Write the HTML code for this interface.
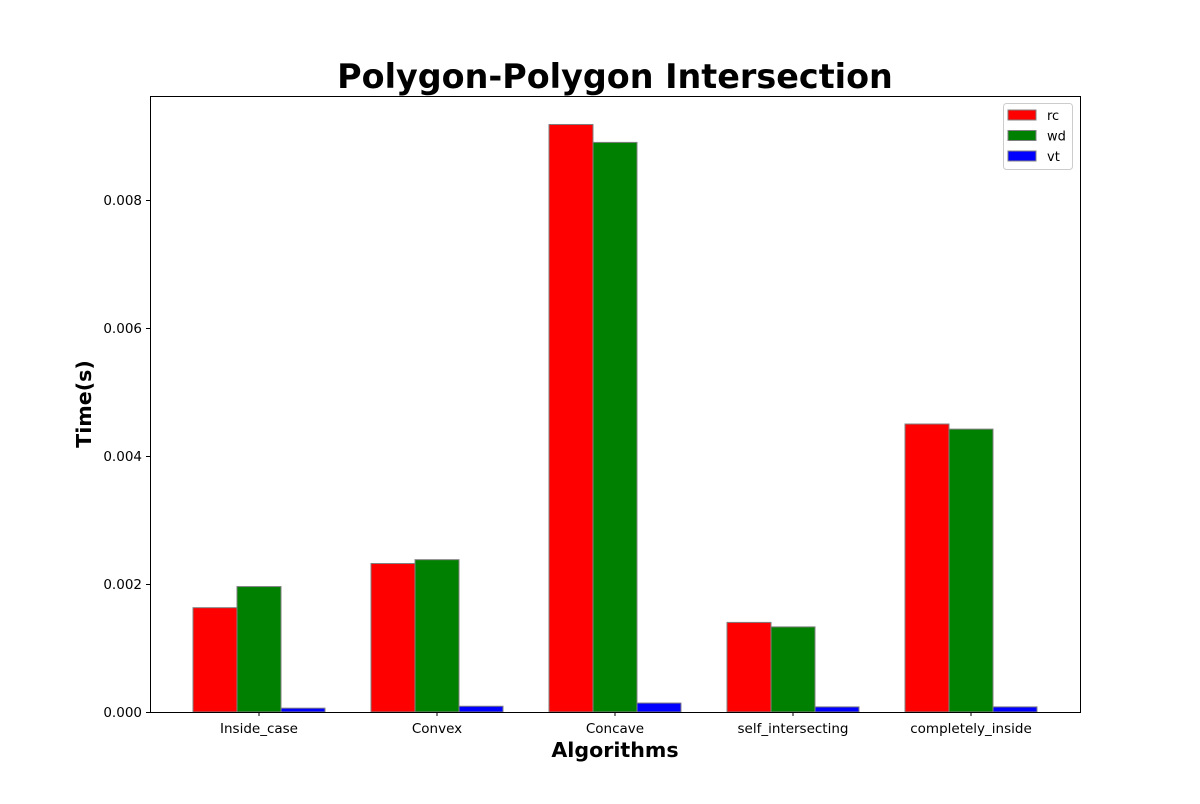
<!DOCTYPE html>
<html><head><meta charset="utf-8"><style>
body{margin:0;background:#fff;font-family:"DejaVu Sans","Liberation Sans",sans-serif}
</style></head><body>
<svg id="chart" width="1200" height="800" xmlns="http://www.w3.org/2000/svg" font-family="DejaVu Sans, Liberation Sans, sans-serif">
<text x="615" y="88" text-anchor="middle" font-size="33.4" font-weight="bold">Polygon-Polygon Intersection</text>
<g id="bars"></g>
<g id="axes"></g>
<rect x="150.5" y="96.5" width="930" height="616" fill="none" stroke="#000" stroke-width="1"/>
<text x="615" y="757" text-anchor="middle" font-size="20.6" font-weight="bold">Algorithms</text>
<text transform="translate(91,404) rotate(-90)" text-anchor="middle" font-size="20.6" font-weight="bold">Time(s)</text>
<g>
<rect x="1003.5" y="103.5" width="69" height="66" rx="3" fill="#fff" stroke="#ccc"/>
<g id="legend"></g>
</g>
</svg>
<script>
const categories=["Inside_case","Convex","Concave","self_intersecting","completely_inside"];
const seriesNames=["rc","wd","vt"];
const seriesColors=["#ff0000","#008000","#0000ff"];
const rcValues=[0.00163,0.00232,0.00918,0.00140,0.00450];
const wdValues=[0.00196,0.00238,0.00890,0.00133,0.00442];
const vtValues=[0.00006,0.00009,0.00014,0.00008,0.00008];
const yTicks=[0,0.002,0.004,0.006,0.008];
const yTickLabels=["0.000","0.002","0.004","0.006","0.008"];
const ns="http://www.w3.org/2000/svg";
const y=v=>712-v/0.001*64;
const groupX=i=>259+i*178;
const barW=44;
const all=[rcValues,wdValues,vtValues];
const bars=document.getElementById('bars');
all.forEach((vals,s)=>{vals.forEach((v,i)=>{
 const r=document.createElementNS(ns,'rect');
 const cx=groupX(i)+(s-1)*barW;
 r.setAttribute('x',cx-barW/2);r.setAttribute('y',y(v));
 r.setAttribute('width',barW);r.setAttribute('height',712-y(v));
 r.setAttribute('fill',seriesColors[s]);r.setAttribute('stroke','#808080');r.setAttribute('stroke-width','1');
 
 
 bars.appendChild(r);});});
const axes=document.getElementById('axes');
yTicks.forEach((t,i)=>{
 const l=document.createElementNS(ns,'line');
 l.setAttribute('x1',146);l.setAttribute('x2',150);l.setAttribute('y1',y(t)+0.5);l.setAttribute('y2',y(t)+0.5);l.setAttribute('stroke','#000');
 
 
 axes.appendChild(l);
 const tx=document.createElementNS(ns,'text');
 tx.setAttribute('x',142);tx.setAttribute('y',y(t)+5);tx.setAttribute('text-anchor','end');tx.setAttribute('font-size','13.5');
 tx.textContent=yTickLabels[i];
 
 
 axes.appendChild(tx);});
categories.forEach((c,i)=>{
 const l=document.createElementNS(ns,'line');
 l.setAttribute('x1',groupX(i));l.setAttribute('x2',groupX(i));l.setAttribute('y1',712);l.setAttribute('y2',716);l.setAttribute('stroke','#000');
 
 
 axes.appendChild(l);
 const tx=document.createElementNS(ns,'text');
 tx.setAttribute('x',groupX(i));tx.setAttribute('y',733);tx.setAttribute('text-anchor','middle');tx.setAttribute('font-size','13.5');
 tx.textContent=c;
 
 
 axes.appendChild(tx);});
const lg=document.getElementById('legend');
seriesNames.forEach((n,s)=>{
 const g=document.createElementNS(ns,'g');
 
 
 const r=document.createElementNS(ns,'rect');
 r.setAttribute('x',1008);r.setAttribute('y',110+s*20.5);r.setAttribute('width',28);r.setAttribute('height',10);
 r.setAttribute('fill',seriesColors[s]);r.setAttribute('stroke','#808080');
 g.appendChild(r);
 const t=document.createElementNS(ns,'text');
 t.setAttribute('x',1047);t.setAttribute('y',120+s*20.5);t.setAttribute('font-size','13');t.textContent=n;
 g.appendChild(t);lg.appendChild(g);});
</script>
</body></html>
